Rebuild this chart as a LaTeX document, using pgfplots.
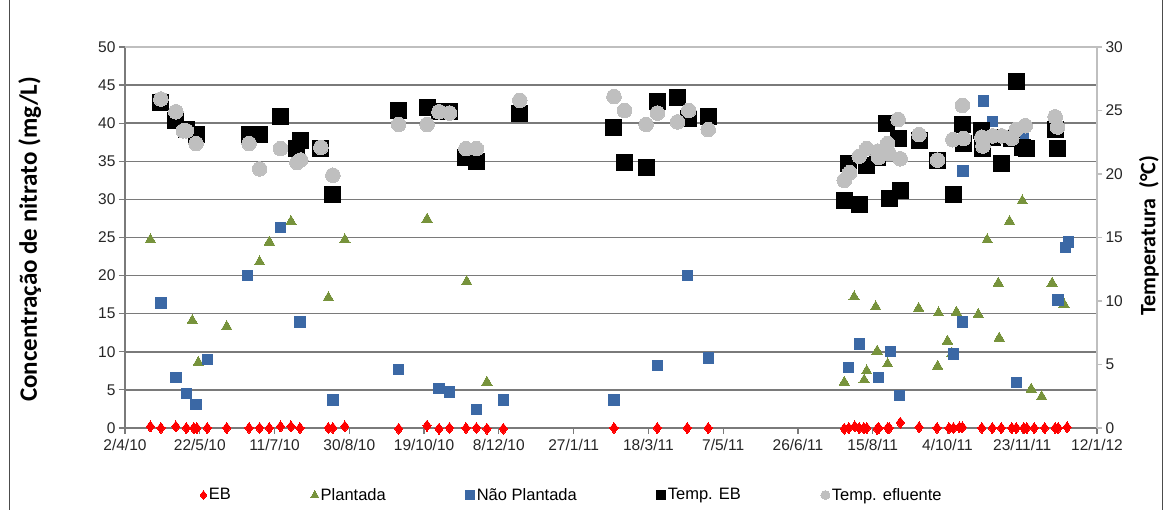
\documentclass[border=0pt]{standalone}
\usepackage{pgfplots}
\pgfplotsset{compat=1.18}
\usepackage{pgfplotstable}
\usepackage{fontspec}
\setmainfont{Liberation Sans}
\newfontfamily\calibri{Carlito}
\definecolor{ebred}{HTML}{FF0000}
\definecolor{plgreen}{HTML}{77933C}
\definecolor{npblue}{HTML}{3B68A5}
\definecolor{tgray}{HTML}{BFBFBF}
\definecolor{gridc}{HTML}{7A7A7A}
\definecolor{ticktext}{HTML}{262626}

\pgfplotstableread{
d v
17 0.2
24 0
34 0.2
41 0
46 0
48 0
55 0
68 0
83 0
90 0
96.5 0
104 0.2
111 0.2
117 0
136 0
139 0
147 0.2
183 -0.1
202 0.3
210 -0.1
217 0
228 0
235 0
242 -0.1
253 -0.1
327 0
356 0
376 0
390 0
481 -0.1
484 0
488 0.2
491 0
494 0
496 0
503 -0.1
504 0
510 0
511 0
518.5 0.7
531 0.1
543 0
551 0
554 0
558 0.1
560 0.1
573 0
580 0
586 0
593 0
596 0
601 0
603 0
608 0
615 0
622 0
624 0
630 0.1
}\tEB

\pgfplotstableread{
d v
17 24.7
45 14.1
49 8.6
68 13.3
90 21.8
96.5 24.4
111 27.1
136 17.1
147 24.7
202 27.4
228.5 19.2
242 6.0
481 6.0
487.6 17.2
494.3 6.3
496 7.5
502 15.9
503 10.1
510 8.4
530.7 15.7
543.4 8.1
544 15.1
550 11.4
553 9.8
556 15.2
570.6 14.9
576.6 24.7
584 19.0
584.6 11.8
591.5 27.1
600 29.8
606 5.1
613 4.1
620 19.0
628 16.2
}\tPl

\pgfplotstableread{
d v
24 16.4
34 6.6
41 4.5
47.5 3.1
55 9.0
82 20.0
104 26.3
117 13.9
139 3.7
183 7.7
210 5.2
217 4.7
235 2.4
253 3.7
327 3.7
356 8.2
376 20.0
390 9.2
484 7.9
491 11.0
504 6.6
512 10.0
518 4.3
554 9.7
560 13.9
560.5 33.7
574 42.9
580 40.2
596 6.0
601 38.4
624 16.8
629 23.7
631 24.4
}\tNP

\pgfplotstableread{
d v
24 25.6
34 24.2
41 23.5
48 23.1
83 23.1
90 23.1
104 24.5
115 22.0
117.5 22.6
131 22.0
139 18.4
183 25.0
202 25.2
210 24.9
217 24.9
228 21.3
235 21.0
264 24.8
327 23.7
334 20.9
348.5 20.5
356 25.7
369.5 26.0
377 24.4
390 24.5
481 17.9
484 20.8
491 17.6
496 20.7
503.5 21.3
509.5 24.0
511 18.1
517 22.8
518.4 18.7
531 22.6
543.4 21.1
554 18.4
560 23.9
560.7 22.4
573 23.4
573.7 22.0
580.4 22.9
586.4 20.8
593 22.8
596 27.3
600.5 22.1
602.7 22.0
622 23.5
623.6 22.0
}\tTEB

\pgfplotstableread{
d v
24 25.9
34 24.9
39 23.4
41 23.4
47.5 22.4
83 22.4
90 20.4
104 22.0
115 20.9
117.5 21.1
131 22.1
139 19.9
183 23.9
202 23.9
210 24.9
217 24.8
228 22.0
235 22.0
264 25.8
327 26.1
334 25.0
348.5 23.9
356 24.8
369.5 24.1
377 25.0
390 23.5
481 19.5
484.6 20.1
491 21.4
496 22.0
503.5 21.8
504 21.3
510 22.4
511 21.6
517 24.3
518.4 21.2
531 23.1
543.4 21.1
553.6 22.7
560 25.4
560.7 22.8
573 22.9
573.7 22.2
580.4 23.0
586.4 23.0
593 22.8
596 23.5
602 23.8
622 24.5
623.6 23.7
}\tTEF

\pgfplotsset{
  ebsty/.style={only marks, mark=diamond*, mark size=5.5pt, mark options={fill=ebred, draw=ebred, line width=0pt}},
  plsty/.style={only marks, mark=triangle*, mark size=6pt, mark options={fill=plgreen, draw=plgreen, line width=0pt}},
  npsty/.style={only marks, mark=square*, mark size=5.2pt, mark options={fill=npblue, draw=npblue, line width=0pt}},
  tebsty/.style={only marks, mark=square*, mark size=8pt, mark options={fill=black, draw=black, line width=0pt}},
  tefsty/.style={only marks, mark=*, mark size=7.3pt, mark options={fill=tgray, draw=tgray, line width=0pt}},
  common/.style={
    scale only axis, width=972pt, height=381pt,
    at={(125pt,82pt)}, anchor=south west,
    xmin=0, xmax=650,
    clip=false,
    tick label style={font=\fontsize{15.5}{17}\selectfont, text=ticktext},
    /pgf/number format/assume math mode=true,
  },
}

\begin{document}
\begin{tikzpicture}
\useasboundingbox (0,0) rectangle (1166pt,510pt);
\fill[white] (0,0) rectangle (1166pt,510pt);
\draw[black!70, line width=1pt] (9pt,0) -- (9pt,510pt);
\draw[black!70, line width=1pt] (1162pt,0) -- (1162pt,510pt);
\begin{axis}[common,
  axis x line*=bottom, axis y line*=left,
  axis line style={gridc, line width=1.2pt},
  ymin=0, ymax=50,
  ytick={0,5,...,45},
  extra y ticks={50},
  extra y tick style={grid style={tgray, line width=1.2pt}},
  ymajorgrids,
  grid style={gridc, line width=1.5pt},
  xtick={0,50,...,650},
  xticklabels={2/4/10,22/5/10,11/7/10,30/8/10,19/10/10,8/12/10,27/1/11,18/3/11,7/5/11,26/6/11,15/8/11,4/10/11,23/11/11,12/1/12},
  xticklabel style={yshift=-2pt},
  tick align=outside,
  major tick length=6pt,
  tick style={gridc, line width=1.2pt},
  ylabel={\calibri\bfseries Concentração de nitrato (mg/L)},
  ylabel style={font=\fontsize{25}{27}\selectfont, at={(axis description cs:-0.098,0.495)}, anchor=center},
]
\addplot[plsty] table[x=d,y=v] {\tPl};
\addplot[npsty] table[x=d,y=v] {\tNP};
\addplot[ebsty] table[x=d,y=v] {\tEB};
\end{axis}
\begin{axis}[common,
  axis x line=none, axis y line*=right,
  axis line style={tgray, line width=1.2pt},
  ymin=0, ymax=30, ytick={0,5,...,30},
  tick align=outside,
  major tick length=5pt,
  tick style={tgray, line width=1.2pt},
  ylabel={\calibri\bfseries Temperatura\ \ (°C)},
  ylabel style={font=\fontsize{22}{24}\selectfont, at={(axis description cs:1.0535,0.505)}, anchor=center},
  legend columns=-1,
  legend image code/.code={\draw[#1, mark size=4.5pt] plot coordinates {(0pt,0pt)};},
  legend style={at={(axis description cs:0.074,-0.176)}, anchor=west, draw=none, fill=none,
    font=\fontsize{16.5}{18}\selectfont,
    /tikz/every even column/.append style={column sep=78pt}},
]
\addlegendimage{ebsty}
\addlegendentry{EB}
\addlegendimage{plsty}
\addlegendentry{Plantada}
\addlegendimage{npsty}
\addlegendentry{Não Plantada}
\addplot[tebsty] table[x=d,y=v] {\tTEB};
\addlegendentry{Temp. EB}
\addplot[tefsty] table[x=d,y=v] {\tTEF};
\addlegendentry{Temp. efluente}
\end{axis}
\end{tikzpicture}
\end{document}
